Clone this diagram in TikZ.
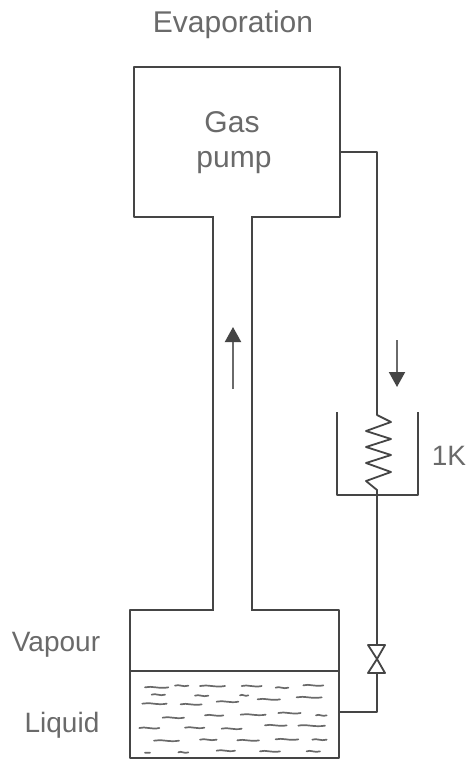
\documentclass[tikz,border=0pt]{standalone}
\usepackage{fontspec}
\setmainfont{Liberation Sans}
\usetikzlibrary{arrows.meta}
\definecolor{ink}{HTML}{454545}
\definecolor{soft}{HTML}{6A6A6A}
\tikzset{
  wall/.style={draw=ink,line width=2.1pt,line join=round},
  pipe/.style={draw=ink,line width=1.8pt,line join=round},
  flow/.style={draw=soft,line width=2pt,-{Triangle[length=15pt,width=16pt,color=ink]}},
  wave/.style={draw=soft,line width=1.7pt,line cap=round},
  lbl/.style={text=soft,inner sep=0pt,anchor=base},
  big/.style={lbl,font=\fontsize{30}{34}\selectfont},
  mid/.style={lbl,font=\fontsize{28}{32}\selectfont},
  box/.style={wall,rectangle,inner sep=0pt,anchor=north west}
}
\begin{document}
\begin{tikzpicture}[x=1pt,y=-1pt]
\useasboundingbox (0,0) rectangle (469,760);
\fill[white] (0,0) rectangle (469,760);
% vessels
\node[box,minimum width=206pt,minimum height=150pt] (pump) at (133,66) {};
\node[box,minimum width=209pt,minimum height=148pt] (vessel) at (129,609) {};
\coordinate (neckLT) at (213,216); \coordinate (neckLB) at (213,609);
\coordinate (neckRT) at (252,216); \coordinate (neckRB) at (252,609);
\fill[white] (214,214) rectangle (251,218);
\fill[white] (214,607) rectangle (251,611);
\draw[wall] (neckLT) -- (neckLB);
\draw[wall] (neckRT) -- (neckRB);
\coordinate (surfL) at (129,671); \coordinate (surfR) at (338,671);
\draw[wall] (surfL) -- (surfR);
% pipe to coil
\coordinate (pumpOut) at (339,152);
\coordinate (bendTop) at (377,152);
\coordinate (coilTop) at (377,415);
\coordinate (coilBot) at (377,490);
\coordinate (valveTop) at (377,645);
\coordinate (valveMid) at (377,659);
\coordinate (valveBot) at (377,673);
\coordinate (bendBot) at (377,712);
\coordinate (vesselIn) at (338,712);
\draw[pipe] (pumpOut) -- (bendTop) -- (coilTop)
  -- (391,422) -- (366,431) -- (391,439) -- (366,447) -- (391,455) -- (366,463) -- (391,472) -- (366,481) -- (coilBot) -- (valveTop);
\draw[pipe] (valveBot) -- (bendBot) -- (vesselIn);
\draw[pipe] (valveMid) -- (368,645) -- (385,645) -- cycle;
\draw[pipe] (valveMid) -- (368,673) -- (385,673) -- cycle;
% bath
\coordinate (bathTL) at (337,412); \coordinate (bathBL) at (337,495);
\coordinate (bathBR) at (418,495); \coordinate (bathTR) at (418,412);
\draw[wall] (bathTL) -- (bathBL) -- (bathBR) -- (bathTR);
% flow arrows
\coordinate (upA) at (233,389); \coordinate (upB) at (233,327);
\coordinate (dnA) at (397,340); \coordinate (dnB) at (397,387);
\draw[flow] (upA) -- (upB);
\draw[flow] (dnA) -- (dnB);
% liquid waves
\foreach \a/\b/\c in {105/175/292,195/235/287,270/345/288,395/455/288,497/535/293,580/640/286,
125/165/314,255/295/317,390/415/316,443/510/328,560/635/322,97/170/341,212/275/343,320/385/335,
158/222/383,285/340/376,392/467/374,505/572/369,618/650/376,88/148/414,225/283/413,335/395/416,
465/530/406,565/645/407,132/207/452,270/320/449,382/447/451,497/565/448,607/650/449,
205/235/487,320/375/482,450/510/484,590/630/484,105/120/488}{
  \pgfmathsetmacro{\xa}{110+\a/3}
  \pgfmathsetmacro{\xb}{110+\b/3}
  \pgfmathsetmacro{\yy}{590+\c/3}
  \draw[wave] (\xa,\yy) .. controls ({\xa+(\xb-\xa)*0.3},\yy-1.8) and ({\xa+(\xb-\xa)*0.6},\yy+1.8) .. (\xb,\yy);
}
% labels
\node[big] (tEvap) at (233,33) {Evaporation};
\node[big] (tGas) at (232,132) {Gas};
\node[big] (tPump) at (234,167) {pump};
\node[mid] (tK) at (449,465) {1K};
\node[mid] (tVap) at (56,651) {Vapour};
\node[mid] (tLiq) at (62,732) {Liquid};
\end{tikzpicture}
\end{document}
